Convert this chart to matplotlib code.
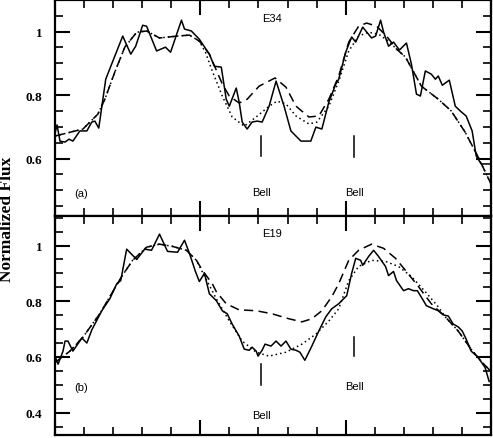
import numpy as np
import matplotlib
matplotlib.use("Agg")
import matplotlib.pyplot as plt
from matplotlib.ticker import MultipleLocator, FormatStrFormatter

# ---- panel (a): E34 ----
wl_a_obs = [4000, 4014, 4034, 4069, 4096, 4123, 4171, 4219, 4253, 4274, 4301, 4349, 4390,
            4466, 4521, 4555, 4603, 4630, 4699, 4760, 4795, 4870, 4891, 4938, 4993, 5062,
            5096, 5144, 5178, 5199, 5247, 5267, 5288, 5322, 5356, 5391, 5425, 5473, 5521,
            5576, 5623, 5692, 5760, 5795, 5836, 5884, 5932, 5952, 6000, 6041, 6069, 6117,
            6178, 6206, 6240, 6261, 6295, 6329, 6370, 6418, 6452, 6487, 6514, 6548, 6589,
            6617, 6637, 6665, 6713, 6754, 6788, 6829, 6870, 6898, 6932, 7000]
flux_a_obs = [0.680, 0.706, 0.655, 0.652, 0.661, 0.655, 0.687, 0.687, 0.715, 0.718, 0.696,
              0.850, 0.898, 0.986, 0.929, 0.954, 1.020, 1.017, 0.939, 0.951, 0.935, 1.036,
              1.008, 1.002, 0.976, 0.929, 0.891, 0.888, 0.787, 0.765, 0.822, 0.778, 0.715,
              0.693, 0.715, 0.718, 0.715, 0.765, 0.844, 0.765, 0.687, 0.655, 0.655, 0.699,
              0.693, 0.778, 0.835, 0.850, 0.935, 0.983, 0.967, 1.014, 0.980, 0.986, 1.036,
              0.998, 0.954, 0.967, 0.942, 0.964, 0.898, 0.803, 0.797, 0.876, 0.866, 0.850,
              0.860, 0.831, 0.847, 0.765, 0.750, 0.734, 0.687, 0.608, 0.583, 0.583]

wl_a_m1 = [4000, 4192, 4295, 4343, 4411, 4480, 4562, 4630, 4719, 4843, 4925, 4993, 5062,
           5151, 5199, 5267, 5322, 5404, 5514, 5589, 5658, 5747, 5815, 5884, 5952, 6021,
           6089, 6144, 6213, 6281, 6350, 6411, 6521, 6637, 6726, 6822, 6911, 7000]
flux_a_m1 = [0.671, 0.693, 0.740, 0.787, 0.872, 0.951, 0.998, 1.002, 0.980, 0.986, 0.989,
             0.970, 0.929, 0.835, 0.797, 0.775, 0.787, 0.828, 0.854, 0.825, 0.765, 0.731,
             0.734, 0.787, 0.860, 0.967, 1.017, 1.027, 1.017, 0.986, 0.945, 0.920, 0.828,
             0.787, 0.750, 0.683, 0.605, 0.520]

wl_a_m2 = [4000, 4192, 4295, 4343, 4411, 4480, 4562, 4630, 4719, 4843, 4925, 4993, 5035,
           5082, 5151, 5219, 5302, 5384, 5473, 5528, 5589, 5658, 5747, 5802, 5884, 5952,
           6021, 6089, 6158, 6226, 6295, 6363, 6411, 6521, 6637, 6726, 6822, 6911, 7000]
flux_a_m2 = [0.671, 0.693, 0.740, 0.787, 0.872, 0.951, 0.998, 1.002, 0.980, 0.986, 0.989,
             0.970, 0.935, 0.876, 0.797, 0.731, 0.702, 0.731, 0.765, 0.781, 0.772, 0.734,
             0.709, 0.715, 0.765, 0.844, 0.939, 0.986, 0.998, 0.992, 0.970, 0.939, 0.920,
             0.828, 0.787, 0.750, 0.683, 0.605, 0.520]

# ---- panel (b): E19 ----
wl_b_obs = [4000, 4021, 4055, 4069, 4089, 4123, 4185, 4219, 4253, 4322, 4377, 4425, 4452,
            4493, 4534, 4562, 4617, 4664, 4719, 4774, 4843, 4891, 4925, 4966, 4993, 5028,
            5062, 5110, 5151, 5185, 5219, 5267, 5302, 5336, 5356, 5384, 5397, 5425, 5445,
            5486, 5521, 5555, 5589, 5623, 5658, 5685, 5719, 5767, 5815, 5863, 5904, 5952,
            6007, 6041, 6069, 6103, 6117, 6158, 6192, 6226, 6274, 6295, 6329, 6350, 6398,
            6432, 6466, 6493, 6535, 6555, 6603, 6637, 6672, 6706, 6740, 6774, 6802, 6829,
            6863, 6911, 6959, 6987]
flux_b_obs = [0.603, 0.574, 0.621, 0.657, 0.657, 0.621, 0.668, 0.650, 0.697, 0.766, 0.809,
              0.863, 0.874, 0.987, 0.965, 0.950, 0.987, 0.983, 1.041, 0.979, 0.976, 1.019,
              0.972, 0.907, 0.871, 0.900, 0.827, 0.802, 0.766, 0.755, 0.718, 0.675, 0.628,
              0.624, 0.635, 0.621, 0.603, 0.624, 0.646, 0.639, 0.657, 0.639, 0.657, 0.628,
              0.624, 0.617, 0.588, 0.639, 0.693, 0.744, 0.773, 0.791, 0.820, 0.900, 0.954,
              0.947, 0.929, 0.961, 0.983, 0.961, 0.925, 0.892, 0.907, 0.874, 0.838, 0.845,
              0.838, 0.838, 0.802, 0.784, 0.773, 0.766, 0.751, 0.747, 0.718, 0.708, 0.693,
              0.664, 0.621, 0.599, 0.562, 0.512]

wl_b_m1 = [4000, 4103, 4192, 4308, 4459, 4534, 4630, 4719, 4808, 4904, 4973, 5014, 5082,
           5110, 5178, 5267, 5384, 5493, 5610, 5699, 5767, 5836, 5904, 5952, 6021, 6089,
           6178, 6261, 6343, 6411, 6500, 6589, 6685, 6774, 6863, 6932, 7000]
flux_b_m1 = [0.580, 0.621, 0.671, 0.755, 0.889, 0.947, 0.994, 1.005, 0.997, 0.983, 0.947,
             0.911, 0.863, 0.834, 0.791, 0.769, 0.766, 0.755, 0.737, 0.726, 0.737, 0.766,
             0.816, 0.863, 0.947, 0.983, 1.005, 0.990, 0.954, 0.911, 0.853, 0.791, 0.744,
             0.693, 0.628, 0.584, 0.548]

wl_b_m2 = [4000, 4103, 4192, 4308, 4459, 4534, 4630, 4719, 4808, 4904, 4973, 5014, 5110,
           5199, 5288, 5384, 5473, 5589, 5699, 5795, 5884, 5952, 6021, 6089, 6178, 6274,
           6363, 6452, 6548, 6637, 6685, 6774, 6863, 6932, 7000]
flux_b_m2 = [0.580, 0.621, 0.671, 0.755, 0.889, 0.947, 0.994, 1.005, 0.997, 0.983, 0.947,
             0.905, 0.809, 0.729, 0.657, 0.617, 0.603, 0.617, 0.646, 0.682, 0.729, 0.773,
             0.874, 0.925, 0.947, 0.943, 0.925, 0.889, 0.834, 0.780, 0.744, 0.693, 0.628,
             0.584, 0.548]

# Bell feature markers: (wavelength, y_bottom, y_top, label_y)
bell_a = [(5420, 0.608, 0.671, 0.494), (6060, 0.605, 0.671, 0.494)]
bell_b = [(5420, 0.501, 0.574, 0.392), (6060, 0.603, 0.671, 0.494)]

SANS = "Liberation Sans"
SERIF = "Liberation Serif"

fig = plt.figure(figsize=(4.93, 4.39), dpi=100)
ax_a = fig.add_axes([0.1116, 0.505, 0.8844, 0.493])
ax_b = fig.add_axes([0.1116, 0.007, 0.8844, 0.498])


def style_axis(ax, ylim, ymajor):
    ax.set_xlim(4000, 7000)
    ax.set_ylim(*ylim)
    ax.xaxis.set_major_locator(MultipleLocator(1000))
    ax.xaxis.set_minor_locator(MultipleLocator(200))
    ax.yaxis.set_major_locator(MultipleLocator(ymajor))
    ax.yaxis.set_minor_locator(MultipleLocator(0.05))
    ax.yaxis.set_major_formatter(FormatStrFormatter("%g"))
    ax.tick_params(which="both", direction="in", top=True, right=True,
                   labelbottom=False)
    ax.tick_params(which="major", length=11, width=1.5, pad=9)
    ax.tick_params(which="minor", length=5.5, width=1.2)
    for lab in ax.get_yticklabels():
        lab.set_fontfamily(SERIF)
        lab.set_fontweight("bold")
        lab.set_fontsize(9.5)
    for sp in ax.spines.values():
        sp.set_linewidth(1.6)


def draw_panel(ax, obs, m1, m2, bells, name, tag):
    ax.plot(*obs, color="black", lw=1.1, ls="-")
    ax.plot(*m1, color="black", lw=1.1, ls=(0, (6, 3.5)))
    ax.plot(*m2, color="black", lw=1.1, ls=(0, (1, 2)))
    for wl, y0, y1, ylab in bells:
        ax.plot([wl, wl], [y0, y1], color="black", lw=1.1)
        ax.text(wl, ylab, "Bell", ha="center", va="center", fontsize=8, family=SANS)
    ax.text(5490, 1.044, name, ha="center", va="center", fontsize=8, family=SANS)
    ax.text(4178, 0.491, tag, ha="center", va="center", fontsize=8, family=SANS)


ax_b.set_yticks([0.4, 0.6, 0.8, 1.0])
style_axis(ax_a, (0.418, 1.1), 0.2)
style_axis(ax_b, (0.32, 1.105), 0.2)
draw_panel(ax_a, (wl_a_obs, flux_a_obs), (wl_a_m1, flux_a_m1), (wl_a_m2, flux_a_m2),
           bell_a, "E34", "(a)")
draw_panel(ax_b, (wl_b_obs, flux_b_obs), (wl_b_m1, flux_b_m1), (wl_b_m2, flux_b_m2),
           bell_b, "E19", "(b)")

fig.text(0.015, 0.5, "Normalized Flux", rotation=90, ha="center", va="center",
         fontsize=12.5, fontweight="bold", family=SERIF)

fig.savefig("out.png", dpi=100)
